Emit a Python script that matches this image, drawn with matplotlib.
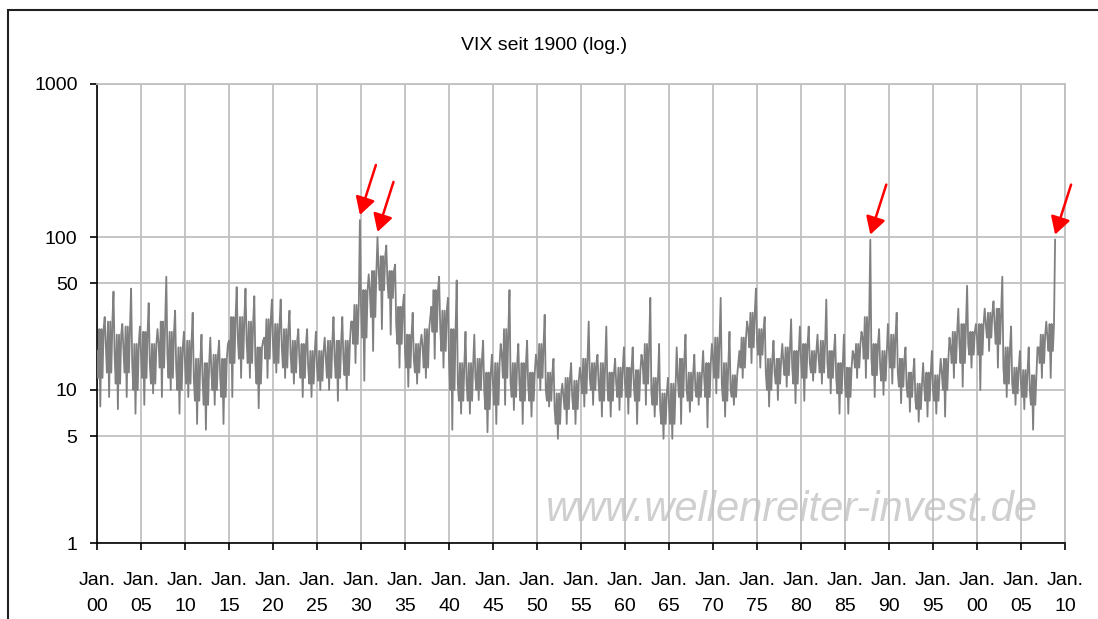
import numpy as np
import matplotlib.pyplot as plt
from matplotlib.patches import Rectangle

plt.rcParams['font.family'] = ['Liberation Sans', 'DejaVu Sans']

# yearly readings: typical level, edges of the dense band,
# spike high and dip low
years = list(range(1900, 2009))
vix_mid = [18, 20, 17, 19, 15, 17, 15, 20, 17, 14,
           15, 12, 11.5, 13, 12, 21, 22, 21, 15, 22,
           20, 19, 17, 16, 14, 14, 16, 16, 16, 28,
           35, 45, 60, 52, 27, 18, 16, 19, 35, 26,
           16, 11, 11, 12, 10, 11, 17, 11, 11, 10.5,
           15, 10, 7.5, 9, 9, 12, 12, 11, 10.5, 11,
           11, 11, 15, 9.5, 7.5, 8, 12, 10, 10, 12,
           16, 11, 10, 18, 25, 21, 13, 13, 15, 14,
           16, 15, 16, 15, 12, 11, 17, 22, 16, 14,
           18, 13, 10.5, 8.6, 10.5, 10, 13, 19, 20, 20,
           22, 27, 27, 14, 11, 11, 10, 19, 22]
band_hi = [25, 28, 23, 26, 20, 24, 20, 28, 24, 19,
           21, 16, 15, 17, 16, 30, 30, 28, 19, 29,
           27, 25, 21, 20, 18, 18, 21, 21, 21, 36,
           45, 60, 75, 60, 35, 23, 20, 25, 45, 33,
           25, 15, 15, 16, 13, 15, 25, 15, 15, 13,
           20, 13, 9.5, 12, 11.5, 16, 15, 15, 13, 14,
           14, 13.5, 20, 12, 9.5, 11, 16, 13, 13, 15,
           22, 15, 12.5, 22, 32, 25, 16, 16, 19, 18,
           20, 18, 21, 18, 15, 14, 20, 30, 20, 18,
           23, 16, 13, 11, 13, 12.5, 16, 24, 27, 24,
           27, 32, 34, 19, 14, 13.5, 12.5, 23, 27]
band_lo = [12, 13, 11, 13, 10, 12, 11, 14, 12, 10,
           11, 8.5, 8, 10, 9, 15, 16, 15, 11, 16,
           15, 14, 13, 12, 11, 11.5, 12, 12, 12.5, 20,
           22, 30, 45, 40, 20, 14, 13, 14, 24, 18,
           10, 8.5, 8.5, 10, 7.5, 8, 12, 9, 8.5, 8.5,
           12, 8.5, 6, 7.5, 7.5, 9.5, 10, 8.5, 8.5, 9,
           9, 8.5, 11, 8, 6, 6, 9, 8.5, 9, 9,
           12, 8.5, 9, 14, 19, 17, 10, 11, 12.5, 11,
           12, 13, 13, 12, 9.5, 9, 14, 16, 12.5, 11.5,
           14, 10.5, 9, 7.5, 8.5, 8.5, 10, 15, 15, 17,
           17, 22, 20, 11, 9.5, 9, 8, 15, 18]
vix_high = [30, 44, 27, 46, 26, 37, 25, 55, 33, 24,
            32, 23, 22, 21, 20, 47, 46, 41, 21, 39,
            39, 33, 25, 25, 24, 22, 30, 30, 28, 129,
            57, 100, 88, 66, 42, 32, 23, 30, 55, 40,
            52, 24, 23, 21, 17, 20, 45, 20, 21, 17,
            31, 16, 11, 15, 14, 28, 17, 26, 16, 19,
            19, 17, 40, 20, 12, 19, 23, 17, 18, 20,
            40, 24, 15, 28, 46, 30, 21, 20, 29, 26,
            26, 23, 39, 23, 23, 18, 24, 96, 25, 27,
            32, 19, 16, 15, 18, 16, 22, 34, 48, 27,
            34, 38, 55, 26, 18, 19, 19, 28, 96]
vix_low = [7.8, 9, 7.5, 9, 7, 8, 9.5, 9, 10, 7,
           9, 6, 5.5, 8, 6, 9, 12, 12, 7.6, 12,
           13, 12, 11, 9, 9, 10, 10, 8.5, 10, 15,
           11.5, 18, 25, 23, 14, 10.5, 11, 12, 16, 14,
           5.5, 7, 7, 8.6, 5.3, 6, 8, 7.4, 6, 6.7,
           10, 7.8, 4.8, 6, 6, 7.8, 8, 6.7, 6.7, 7.4,
           7, 6, 8, 6.7, 4.8, 4.8, 6, 7.2, 8, 5.7,
           9.5, 6.7, 8, 12, 15, 14, 7.8, 8.6, 10.5, 8.2,
           8.5, 11.5, 11, 9.5, 7, 7, 12, 12, 9, 9.3,
           11, 8.2, 7.2, 6.2, 6.7, 7, 6.7, 12, 10.5, 14,
           10, 18, 14, 9, 8, 7.5, 5.5, 12, 12]

tick_years = list(range(1900, 2011, 5))
tick_labels = ['Jan.\n%02d' % (y % 100) for y in tick_years]
y_ticks = [1, 5, 10, 50, 100, 1000]

# spikes marked with red arrows
peak_years = [1929, 1931, 1987, 2008]

# walk through each year's readings in eighths of a year
t, v = [], []
for y, m, blo, bhi, lo, hi in zip(years, vix_mid, band_lo, band_hi,
                                  vix_low, vix_high):
    t += [y + k / 8 for k in range(8)]
    v += [m, blo, bhi, lo, bhi, blo, bhi, hi]

fig = plt.figure(figsize=(10.98, 6.19), dpi=100)
ax = fig.add_axes([97 / 1098, 1 - 543 / 619, 968 / 1098, 459 / 619])

grid_col = '#c0c0c0'
ax.text(0.718, 0.072, 'www.wellenreiter-invest.de', transform=ax.transAxes,
        ha='center', va='center', fontsize=30, style='italic',
        color='#cfcfcf', zorder=0.5)

ax.plot(t, v, color='#808080', lw=1.3, zorder=3)

ax.set_yscale('log')
ax.set_ylim(1, 1000)
ax.set_xlim(1900, 2010)
ax.set_yticks(y_ticks)
ax.set_yticklabels([str(y) for y in y_ticks])
ax.yaxis.set_minor_locator(plt.NullLocator())
ax.set_xticks(tick_years)
ax.set_xticklabels(tick_labels, linespacing=1.65)
ax.grid(True, color=grid_col, lw=1.3, zorder=1)
ax.set_axisbelow(True)

ax.tick_params(axis='both', direction='out', length=5, width=1.2,
               colors='black', labelsize=14)
ax.tick_params(axis='x', pad=16)
ax.tick_params(axis='y', pad=9)
for s in ['top', 'right']:
    ax.spines[s].set_color(grid_col)
    ax.spines[s].set_linewidth(1.3)
for s in ['left', 'bottom']:
    ax.spines[s].set_color('black')
    ax.spines[s].set_linewidth(1.2)

for py in peak_years:
    pv = vix_high[years.index(py)]
    ax.annotate('', xy=(py + 0.875, pv * 1.08), xytext=(16, 50),
                textcoords='offset pixels',
                arrowprops=dict(arrowstyle='-|>,head_length=0.7,head_width=0.4',
                                color='red', lw=1.8, mutation_scale=15,
                                shrinkA=0, shrinkB=0))

fig.text(544 / 1098, 1 - 46 / 619, 'VIX seit 1900 (log.)', ha='center',
         va='center', fontsize=14)

fig.patches.append(Rectangle((8 / 1098, -0.1), 1.2, 1 - 10 / 619 + 0.1,
                             transform=fig.transFigure, fill=False,
                             edgecolor='#202020', lw=1.5))

fig.savefig('out.png', dpi=100)
